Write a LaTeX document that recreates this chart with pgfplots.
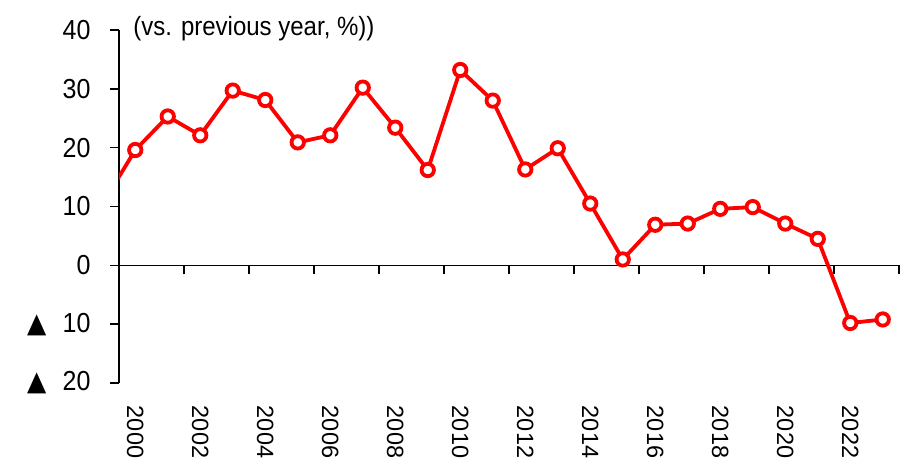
\documentclass[border=0pt]{standalone}
\usepackage{graphicx}
\usepackage{pgfplots}
\pgfplotsset{compat=1.18}
\usepackage{fontspec}
\setmainfont{Liberation Sans}
\newfontfamily\sym{DejaVu Sans}
\newcommand\yl[1]{\scalebox{1}[1.1]{#1}}
\begin{document}
\begin{tikzpicture}
\begin{axis}[
  scale only axis, width=780pt, height=353pt,
  at={(0,0)}, anchor=south west,
  xmin=1999.5, xmax=2023.5, ymin=-20, ymax=40,
  axis x line=middle, axis y line=left,
  axis line style={-, line width=1.6pt, black},
  tick align=outside,
  major tick length=9pt, minor tick length=9pt,
  every tick/.style={line width=1.6pt, black},
  xtick={2000,2002,...,2022},
  xticklabels={2000,2002,2004,2006,2008,2010,2012,2014,2016,2018,2020,2022},
  minor xtick={1999.5,2001.5,...,2023.5},
  major x tick style={draw=none},
  xticklabel style={rotate=-90, anchor=west, font=\fontsize{23.5}{23.5}\selectfont},
  xticklabel shift=128pt,
  ytick={-20,-10,0,10,20,30,40},
  yticklabels={{\yl{{\sym ▲}\hspace{0.65em}20}},{\yl{{\sym ▲}\hspace{0.65em}10}},\yl{0},\yl{10},\yl{20},\yl{30},\yl{40}},
  yticklabel style={font=\fontsize{25}{25}\selectfont, xshift=-16pt},
  clip mode=individual,
]
\addplot[red, line width=3.8pt, forget plot] coordinates {(1999,10.5) (2000,19.6)};
\addplot[red, line width=3.8pt, mark=*, mark size=6.2pt,
  mark options={fill=white, draw=red, line width=3.8pt}] coordinates {
 (2000,19.6) (2001,25.3) (2002,22.1) (2003,29.7) (2004,28.1) (2005,20.9)
 (2006,22.1) (2007,30.2) (2008,23.4) (2009,16.2) (2010,33.2) (2011,28.0)
 (2012,16.3) (2013,19.9) (2014,10.5) (2015,1.0) (2016,6.9) (2017,7.1)
 (2018,9.6) (2019,9.9) (2020,7.1) (2021,4.5) (2022,-9.8) (2023,-9.2)};
\node[anchor=base west, font=\fontsize{24}{28}\selectfont] at (rel axis cs:0.014,0.984) {\scalebox{1}[1.1]{(vs. previous year, \%))}};
\end{axis}
\pgfresetboundingbox
\path (-119pt,-86pt) rectangle (790pt,383pt);
\end{tikzpicture}
\end{document}
